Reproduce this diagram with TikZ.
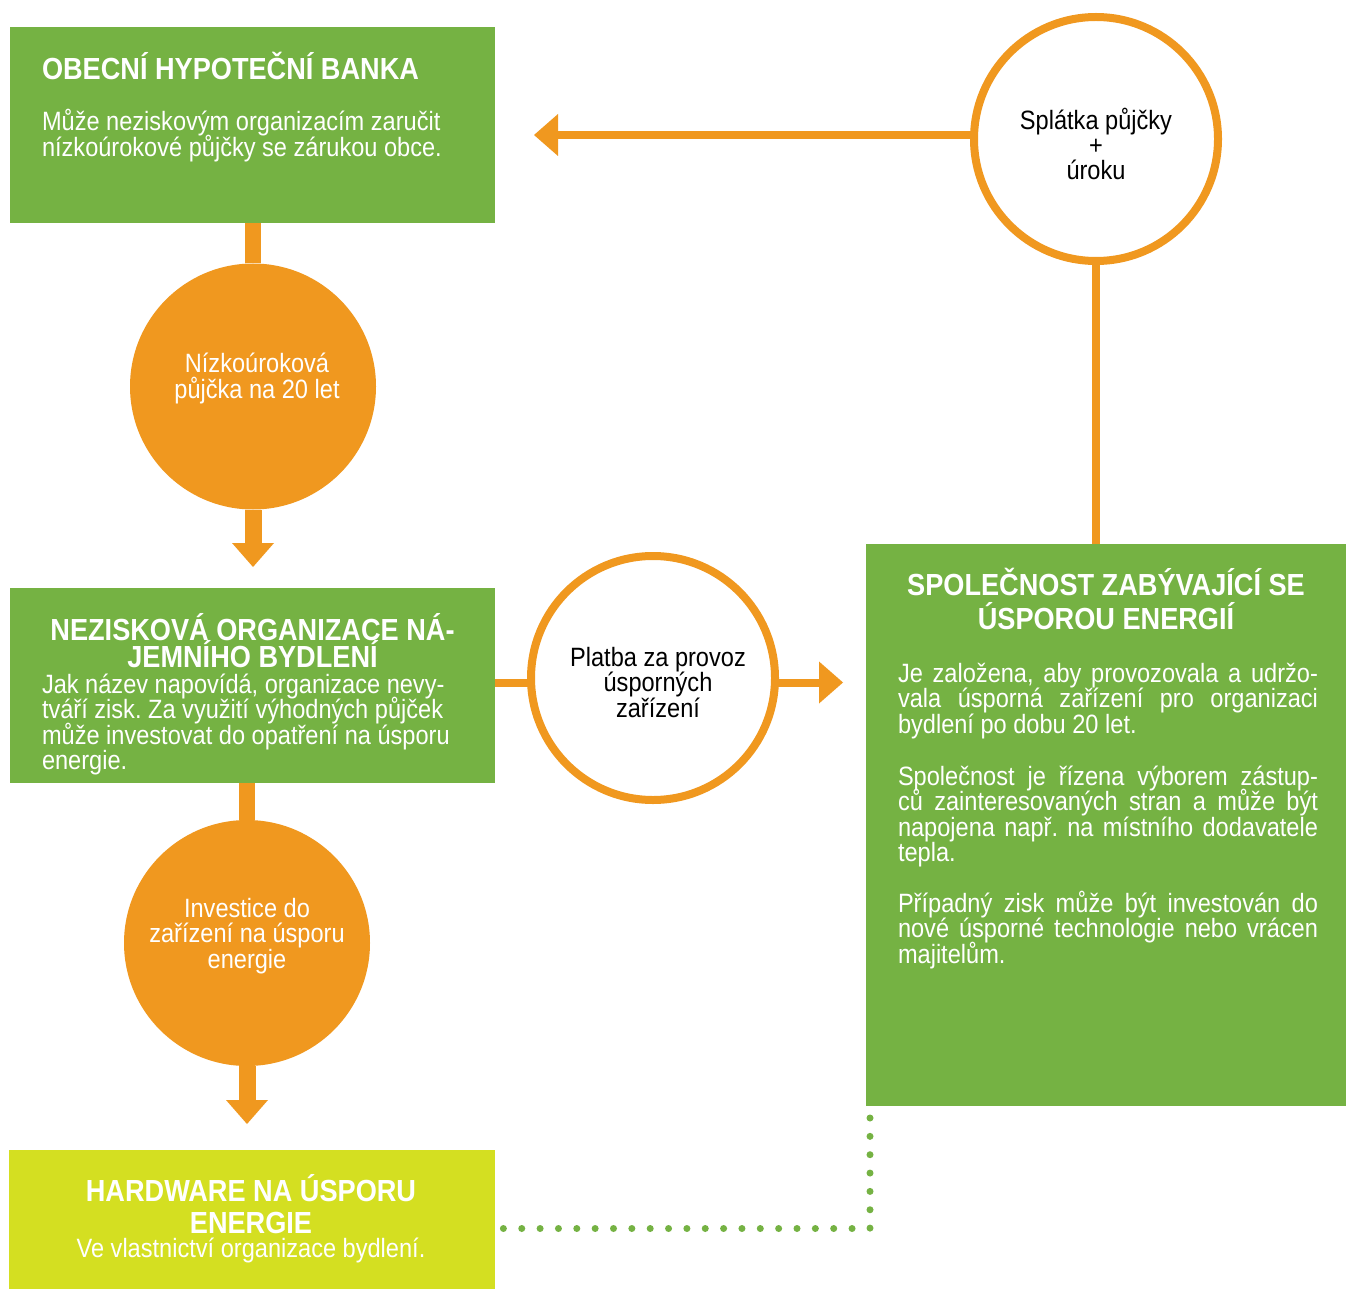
\documentclass[tikz,border=0pt]{standalone}
\usepackage{fontspec}
\setmainfont[FakeStretch=0.89]{Liberation Sans}
\usetikzlibrary{arrows.meta,calc}
\definecolor{gbox}{HTML}{75B243}
\definecolor{obox}{HTML}{F0981F}
\definecolor{lbox}{HTML}{D4DF21}
\newcommand\ctab[1]{\vtop{\lineskiplimit=-100pt\lineskip=0pt\halign{\hfil##\hfil\cr#1\crcr}}}
\newcommand\ltab[1]{\vtop{\lineskiplimit=-100pt\lineskip=0pt\halign{##\hfil\cr#1\crcr}}}
\newcommand\jl[1]{\makebox[420pt][s]{#1}}
\frenchspacing
\begin{document}
\begin{tikzpicture}[x=1pt,y=-1pt,
  gbx/.style={fill=gbox,draw=none,inner sep=0pt,outer sep=0pt,anchor=north west},
  lbx/.style={fill=lbox,draw=none,inner sep=0pt,outer sep=0pt,anchor=north west},
  ocirc/.style={circle,fill=obox,draw=none,inner sep=0pt,outer sep=0pt,minimum size=246pt},
  wcirc/.style={circle,fill=white,draw=obox,line width=8pt,inner sep=0pt,outer sep=0pt,minimum size=244pt},
  conn/.style={draw=obox,line cap=butt},
  tip/.style={-{Triangle[width=42pt,length=24pt,line width=0pt]}},
  wt/.style={text=white,inner sep=0pt,outer sep=0pt},
  bt/.style={text=black,inner sep=0pt,outer sep=0pt},
  titlef/.style={font=\bfseries\fontsize{30.5}{27}\selectfont},
  bodyf/.style={font=\fontsize{26.5}{25.5}\selectfont},
  dotline/.style={draw=gbox,line width=7pt,line cap=round,dash pattern=on 0pt off 18.35pt}
]
\useasboundingbox (0,0) rectangle (1346,1289);
\fill[white] (0,0) rectangle (1346,1289);

% boxes
\node[gbx,minimum width=485pt,minimum height=196pt] (box1) at (10,27) {};
\node[gbx,minimum width=485pt,minimum height=195pt] (box2) at (10,588) {};
\node[lbx,minimum width=486pt,minimum height=139pt] (box3) at (9,1150) {};
\node[gbx,minimum width=480pt,minimum height=562pt] (box4) at (866,544) {};

% circles
\node[ocirc] (c1) at (253,386.5) {};
\node[ocirc] (c2) at (247,943) {};
\node[wcirc] (c3) at (653,678) {};
\node[wcirc] (c4) at (1096,139) {};

% connectors
\draw[conn,line width=16pt] (c1.north) -- (c1.north |- box1.south);
\draw[conn,line width=17pt,tip,shorten >=21pt] (c1.south) -- (c1.south |- box2.north);
\draw[conn,line width=16pt] (c2.north) -- (c2.north |- box2.south);
\draw[conn,line width=17pt,tip,shorten >=26pt] (c2.south) -- (c2.south |- box3.north);
\draw[conn,line width=8pt] ([yshift=-4.5pt]c3.west) -- ([yshift=-4.5pt]c3.west -| box2.east);
\draw[conn,line width=8pt,tip,shorten >=23pt] ([yshift=-4.5pt]c3.east) -- ([yshift=-4.5pt]c3.east -| box4.west);
\draw[conn,line width=8pt] (c4.south) -- (c4.south |- box4.north);
\draw[conn,line width=8pt,tip,shorten >=39pt] ([yshift=4pt]c4.west) -- ([yshift=4pt]c4.west -| box1.east);
\draw[dotline] ([xshift=4pt,yshift=-12pt]box4.south west) |- ([xshift=8pt,yshift=-9pt]box3.east);

% texts box1
\node[wt,titlef,anchor=base west] (t1) at (42,80) {OBECNÍ HYPOTEČNÍ BANKA};
\node[wt,bodyf,anchor=base west] (b1) at (42,131) {\ltab{Může neziskovým organizacím zaručit\cr nízkoúrokové půjčky se zárukou obce.}};

% texts box2
\node[wt,titlef,anchor=base] (t2) at (252.5,640) {\ctab{NEZISKOVÁ ORGANIZACE NÁ-\cr JEMNÍHO BYDLENÍ}};
\node[wt,bodyf,anchor=base west] (b2) at (42,693) {\ltab{Jak název napovídá, organizace nevy-\cr tváří zisk. Za využití výhodných půjček\cr může investovat do opatření na úsporu\cr energie.}};

% texts box3
\node[wt,font=\bfseries\fontsize{30.5}{32}\selectfont,anchor=base] (t3) at (251,1201) {\ctab{HARDWARE NA ÚSPORU\cr ENERGIE}};
\node[wt,bodyf,anchor=base] (b3) at (251,1257) {Ve vlastnictví organizace bydlení.};

% texts box4
\node[wt,font=\bfseries\fontsize{30.5}{34}\selectfont,anchor=base] (t4) at (1106,595) {\ctab{SPOLEČNOST ZABÝVAJÍCÍ SE\cr ÚSPOROU ENERGIÍ}};
\node[wt,bodyf,anchor=base west] (b4a) at (898,682) {\ltab{\jl{Je založena, aby provozovala a udržo-}\cr \jl{vala úsporná zařízení pro organizaci}\cr bydlení po dobu 20 let.}};
\node[wt,bodyf,anchor=base west] (b4b) at (898,785) {\ltab{\jl{Společnost je řízena výborem zástup-}\cr \jl{ců zainteresovaných stran a může být}\cr \jl{napojena např. na místního dodavatele}\cr tepla.}};
\node[wt,bodyf,anchor=base west] (b4c) at (898,912) {\ltab{\jl{Případný zisk může být investován do}\cr \jl{nové úsporné technologie nebo vrácen}\cr majitelům.}};

% circle texts
\node[wt,bodyf,anchor=base] (c1t) at (257,372.5) {\ctab{Nízkoúroková\cr půjčka na 20 let}};
\node[wt,bodyf,anchor=base] (c2t) at (247,917) {\ctab{Investice do\cr zařízení na úsporu\cr energie}};
\node[bt,bodyf,anchor=base] (c3t) at (658,666) {\ctab{Platba za provoz\cr úsporných\cr zařízení}};
\node[bt,font=\fontsize{26.5}{25}\selectfont,anchor=base] (c4t) at (1096,130) {\ctab{Splátka půjčky\cr +\cr úroku}};
\end{tikzpicture}
\end{document}
